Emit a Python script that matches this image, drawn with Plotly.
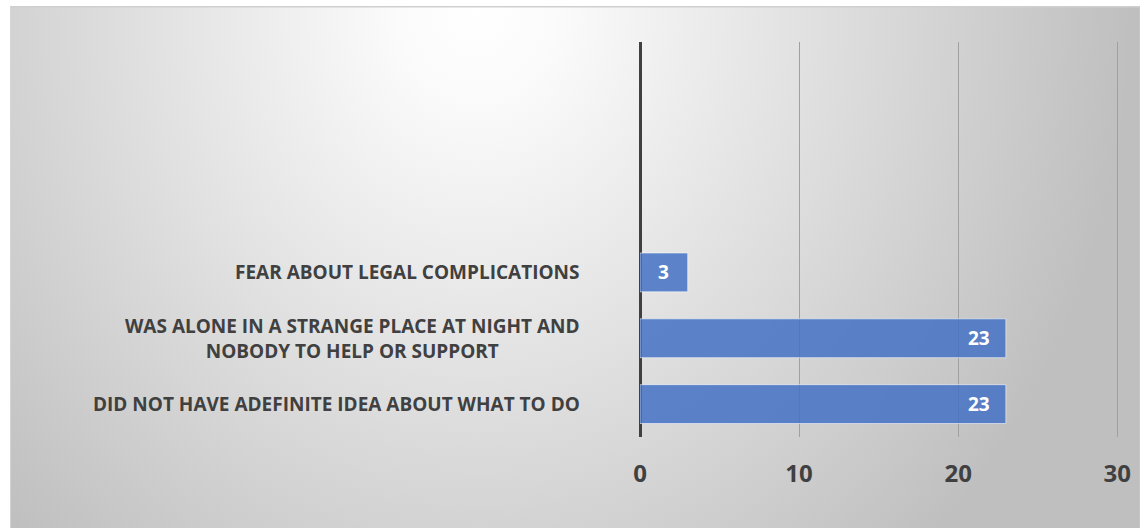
import base64
import plotly.graph_objects as go

# ---- data ----
categories = [
    "DID NOT HAVE ADEFINITE IDEA ABOUT WHAT TO DO",
    "WAS ALONE IN A STRANGE PLACE AT NIGHT AND<br>NOBODY TO HELP OR SUPPORT",
    "FEAR ABOUT LEGAL COMPLICATIONS",
]
values = [23, 23, 3]
x_ticks = [0, 10, 20, 30]

W, H = 1143, 528
ML, MR, MT, MB = 640, 18, 42, 91
pw, ph = W - ML - MR, H - MT - MB
X_MAX = 30.3

FONT = "Open Sans"
TXT = "#404040"

# background gradient as svg image
svg = f'''<svg xmlns="http://www.w3.org/2000/svg" width="1137" height="522" viewBox="0 0 1137 522">
<defs><radialGradient id="g" gradientUnits="userSpaceOnUse" cx="0" cy="0" r="1"
 gradientTransform="translate(470,0) scale(660,740)">
<stop offset="0" stop-color="#ffffff"/><stop offset="0.12" stop-color="#fbfbfb"/>
<stop offset="1" stop-color="#bfbfbf"/></radialGradient></defs>
<rect x="0" y="0" width="1137" height="522" fill="url(#g)"/>
<line x1="0" y1="0.5" x2="1137" y2="0.5" stroke="#cfcfcf" stroke-width="2"/>
<line x1="0.5" y1="0" x2="0.5" y2="522" stroke="#d6d6d6" stroke-width="1"/>
</svg>'''
src = "data:image/svg+xml;base64," + base64.b64encode(svg.encode()).decode()

def px_to_paper_x(px):
    return (px - ML) / pw

def py_to_paper_y(py):
    return (H - MB - py) / ph

fig = go.Figure()
fig.add_trace(go.Bar(
    y=categories, x=values, orientation="h",
    marker=dict(color="rgba(68,114,196,0.85)",
                line=dict(color="rgba(255,255,255,0.55)", width=1)),
    hoverinfo="skip",
))

annotations = []
# category labels
for c in categories:
    annotations.append(dict(
        x=0, xref="paper", y=c, yref="y", xanchor="right", yanchor="middle",
        xshift=-58, text=c, showarrow=False, align="center",
        font=dict(family=FONT, size=19, color=TXT, weight="bold"),
    ))
# data labels
for c, v in zip(categories, values):
    if v >= 10:
        annotations.append(dict(x=v, y=c, xref="x", yref="y", xanchor="right",
                                xshift=-14, text=str(v), showarrow=False,
                                font=dict(family=FONT, size=19, color="white", weight="bold")))
    else:
        annotations.append(dict(x=v / 2, y=c, xref="x", yref="y", xanchor="center",
                                text=str(v), showarrow=False,
                                font=dict(family=FONT, size=19, color="white", weight="bold")))

fig.update_layout(
    width=W, height=H,
    margin=dict(l=ML, r=MR, t=MT, b=MB, pad=0),
    paper_bgcolor="white", plot_bgcolor="rgba(0,0,0,0)",
    showlegend=False, bargap=0.41,
    annotations=annotations,
    images=[dict(source=src, xref="paper", yref="paper",
                 x=px_to_paper_x(6), y=py_to_paper_y(6),
                 sizex=px_to_paper_x(W) - px_to_paper_x(6),
                 sizey=py_to_paper_y(6) - py_to_paper_y(H),
                 xanchor="left", yanchor="top", sizing="stretch", layer="below")],
    xaxis=dict(range=[0, X_MAX], tickvals=x_ticks, ticktext=[str(t) for t in x_ticks],
               showgrid=True, gridcolor="#a0a0a0", gridwidth=1,
               zeroline=True, zerolinecolor="#404040", zerolinewidth=3,
               showline=False, ticks="", ticklabelstandoff=20,
               tickfont=dict(family=FONT, size=24, color=TXT, weight="bold"),
               fixedrange=True),
    yaxis=dict(type="category", categoryorder="array", categoryarray=categories,
               range=[-0.5, 5.5], showticklabels=False, showgrid=False,
               zeroline=False, showline=False, ticks="", fixedrange=True),
)

fig.write_html("out.html", config={"displayModeBar": False})
